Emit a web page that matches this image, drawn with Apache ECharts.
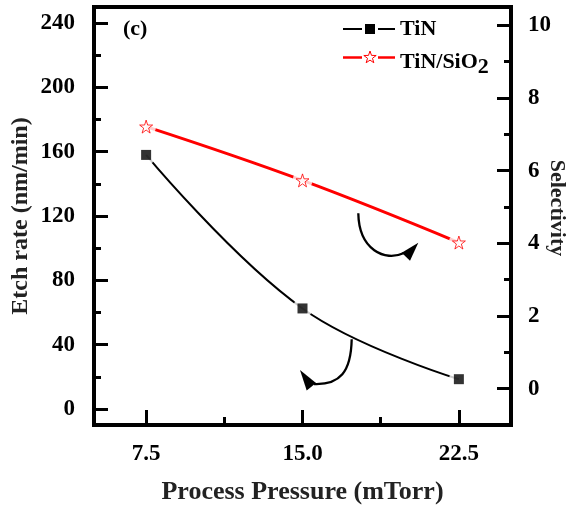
<!DOCTYPE html>
<html>
<head>
<meta charset="utf-8">
<script src="https://cdn.jsdelivr.net/npm/echarts@6/dist/echarts.min.js"></script>
<style>
html,body{margin:0;padding:0;background:#fff;}
#chart{width:568px;height:508px;}
</style>
</head>
<body>
<div id="chart"></div>
<script>
// ---- data ----
const pressure = [7.5, 15.0, 22.5];
const etchRateTiN = [158, 62.5, 18.5];
const selectivity = [7.21, 5.73, 4.02];
const xTicks = [7.5, 15.0, 22.5];
const xMinorTicks = [11.25, 18.75];
const leftTicks = [0, 40, 80, 120, 160, 200, 240];
const leftMinorTicks = [20, 60, 100, 140, 180, 220];
const rightTicks = [0, 2, 4, 6, 8, 10];
const rightMinorTicks = [1, 3, 5, 7, 9];
const seriesNames = ['TiN', 'TiN/SiO2'];

const FONT = 'Liberation Serif';
const tinData = pressure.map((x, i) => [x, etchRateTiN[i]]);
const selData = pressure.map((x, i) => [x, selectivity[i]]);
const starPath = 'path://M50,2 L61.2,36.5 L97.6,36.5 L68.2,57.9 L79.4,92.4 L50,71.1 L20.6,92.4 L31.8,57.9 L2.4,36.5 L38.8,36.5 Z';

const labelStyle = {fontFamily: FONT, fontWeight: 'bold', fontSize: 23, color: '#000'};
const nameStyle = {fontFamily: FONT, fontWeight: 'bold', fontSize: 24, color: '#222'};
const tickLine = {color: '#000', width: 3};

function starPoints(cx, cy, r) {
  const pts = [];
  for (let k = 0; k < 10; k++) {
    const rr = k % 2 === 0 ? r : r * 0.4;
    const a = -Math.PI / 2 + k * Math.PI / 5;
    pts.push([cx + rr * Math.cos(a), cy + rr * Math.sin(a)]);
  }
  return pts;
}

const chart = echarts.init(document.getElementById('chart'), null, {renderer: 'canvas'});
const option = {
  animation: false,
  backgroundColor: '#fff',
  grid: {left: 94, right: 57, top: 7, bottom: 83, show: true, borderColor: '#000', borderWidth: 4,
         containLabel: false, outerBoundsMode: 'none'},
  xAxis: [
    {
      type: 'value', min: 5, max: 25, position: 'bottom',
      axisLine: {show: true, onZero: false, lineStyle: {color: '#000', width: 4}},
      axisTick: {show: true, inside: true, length: 15, lineStyle: tickLine, customValues: xTicks},
      axisLabel: Object.assign({customValues: xTicks, margin: 18, formatter: v => Number(v).toFixed(1)}, labelStyle),
      splitLine: {show: false},
      name: 'Process Pressure (mTorr)', nameLocation: 'middle', nameGap: 54, nameMoveOverlap: false,
      nameTextStyle: Object.assign({}, nameStyle, {fontSize: 26})
    },
    {
      type: 'value', min: 5, max: 25, position: 'bottom',
      axisLine: {show: false, onZero: false},
      axisTick: {show: true, inside: true, length: 8, lineStyle: tickLine, customValues: xMinorTicks},
      axisLabel: {show: false}, splitLine: {show: false}
    }
  ],
  yAxis: [
    {
      type: 'value', min: -10, max: 250, position: 'left',
      axisLine: {show: true, onZero: false, lineStyle: {color: '#000', width: 4}},
      axisTick: {show: true, inside: true, length: 14, lineStyle: tickLine, customValues: leftTicks},
      axisLabel: Object.assign({customValues: leftTicks, margin: 19}, labelStyle),
      splitLine: {show: false},
      name: 'Etch rate (nm/min)', nameLocation: 'middle', nameRotate: 90, nameGap: 61, nameMoveOverlap: false,
      nameTextStyle: nameStyle
    },
    {
      type: 'value', min: -1, max: 10.5, position: 'right',
      axisLine: {show: true, onZero: false, lineStyle: {color: '#000', width: 4}},
      axisTick: {show: true, inside: true, length: 14, lineStyle: tickLine, customValues: rightTicks},
      axisLabel: Object.assign({customValues: rightTicks, margin: 17}, labelStyle),
      splitLine: {show: false},
      name: 'Selectivity', nameLocation: 'middle', nameRotate: -90, nameGap: 35, nameMoveOverlap: false,
      nameTextStyle: Object.assign({}, nameStyle, {fontSize: 22, padding: [0, 16, 0, 0]})
    },
    {
      type: 'value', min: -10, max: 250, position: 'left',
      axisLine: {show: false, onZero: false},
      axisTick: {show: true, inside: true, length: 7, lineStyle: tickLine, customValues: leftMinorTicks},
      axisLabel: {show: false}, splitLine: {show: false}
    },
    {
      type: 'value', min: -1, max: 10.5, position: 'right',
      axisLine: {show: false, onZero: false},
      axisTick: {show: true, inside: true, length: 7, lineStyle: tickLine, customValues: rightMinorTicks},
      axisLabel: {show: false}, splitLine: {show: false}
    }
  ],
  series: [
    {name: seriesNames[0], type: 'line', xAxisIndex: 0, yAxisIndex: 0, data: tinData, smooth: 0.4,
     showSymbol: false, symbol: 'none', lineStyle: {color: '#000', width: 2}, z: 2, silent: true},
    {name: seriesNames[1], type: 'line', xAxisIndex: 0, yAxisIndex: 1, data: selData, smooth: 0.4,
     showSymbol: false, symbol: 'none', lineStyle: {color: '#ff0000', width: 3}, z: 2, silent: true},
    {type: 'scatter', xAxisIndex: 0, yAxisIndex: 0, data: tinData, symbol: 'circle', symbolSize: 20,
     itemStyle: {color: '#fff'}, z: 3, silent: true},
    {type: 'scatter', xAxisIndex: 0, yAxisIndex: 1, data: selData, symbol: 'circle', symbolSize: 20,
     itemStyle: {color: '#fff'}, z: 3, silent: true},
    {type: 'scatter', xAxisIndex: 0, yAxisIndex: 0, data: tinData, symbol: 'rect', symbolSize: 10,
     itemStyle: {color: '#000'}, z: 4, silent: true},
    {type: 'scatter', xAxisIndex: 0, yAxisIndex: 1, data: selData, symbol: starPath, symbolSize: 13,
     itemStyle: {color: '#fff', borderColor: '#ff0000', borderWidth: 1}, z: 4, silent: true}
  ],
  graphic: [
    {type: 'text', left: 123, top: 18, style: {text: '(c)', font: 'bold 22px "Liberation Serif"', fill: '#000'}},
    // legend
    {type: 'line', shape: {x1: 343, y1: 29, x2: 362, y2: 29}, style: {stroke: '#000', lineWidth: 2}},
    {type: 'rect', shape: {x: 365, y: 24, width: 10, height: 10}, style: {fill: '#000'}},
    {type: 'line', shape: {x1: 378, y1: 29, x2: 395, y2: 29}, style: {stroke: '#000', lineWidth: 2}},
    {type: 'text', x: 400, y: 29, style: {text: seriesNames[0], font: 'bold 22px "Liberation Serif"', fill: '#000', verticalAlign: 'middle'}},
    {type: 'line', shape: {x1: 343, y1: 57.5, x2: 362, y2: 57.5}, style: {stroke: '#ff0000', lineWidth: 2.5}},
    {type: 'polygon', shape: {points: starPoints(370, 57.5, 6.5)}, style: {fill: '#fff', stroke: '#ff0000', lineWidth: 1}},
    {type: 'line', shape: {x1: 378, y1: 57.5, x2: 395, y2: 57.5}, style: {stroke: '#ff0000', lineWidth: 2.5}},
    {type: 'text', x: 400, y: 46, style: {
      text: 'TiN/SiO{s|2}', font: 'bold 22px "Liberation Serif"', fill: '#000', verticalAlign: 'top',
      rich: {s: {fontFamily: FONT, fontWeight: 'bold', fontSize: 22, padding: [10, 0, 0, 0], verticalAlign: 'bottom', fill: '#000'}}
    }},
    // arrows
    {type: 'bezierCurve', shape: {x1: 351.7, y1: 339.3, cpx1: 351, cpy1: 372, cpx2: 340, cpy2: 385, x2: 314, y2: 384},
     style: {stroke: '#000', lineWidth: 2.3, fill: null}},
    {type: 'polygon', shape: {points: [[300, 370], [306.7, 390.5], [316, 383]]}, style: {fill: '#000'}},
    {type: 'bezierCurve', shape: {x1: 358.3, y1: 213.3, cpx1: 359, cpy1: 250, cpx2: 385, cpy2: 262, x2: 404, y2: 253},
     style: {stroke: '#000', lineWidth: 2.3, fill: null}},
    {type: 'polygon', shape: {points: [[418.3, 242.7], [410, 260.7], [401.7, 252.7]]}, style: {fill: '#000'}}
  ]
};
chart.setOption(option);
</script>
</body>
</html>
